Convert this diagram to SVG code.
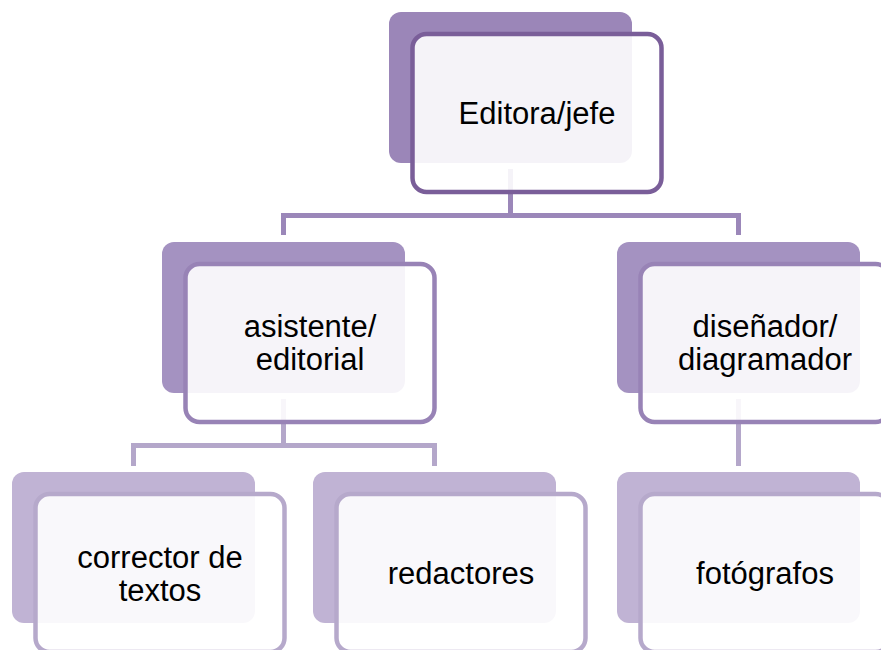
<svg xmlns="http://www.w3.org/2000/svg" width="881" height="650" viewBox="0 0 881 650">
<style>
.conn{fill:none;stroke-width:5;stroke-linejoin:miter;stroke-linecap:butt}
.c1{stroke:#9b87b9}
.c2{stroke:#b4a7ca}
.back{stroke:none}
.front{fill:#ffffff;fill-opacity:0.9;stroke-width:4.5}
.l1 .back{fill:#9b86b8}
.l1 .front{stroke:#7a5e99}
.l2 .back{fill:#a492c1}
.l2 .front{stroke:#9883b6}
.l3 .back{fill:#c0b3d4}
.l3 .front{stroke:#b6a9cb}
text{font-family:"Liberation Sans",Arial,sans-serif;font-size:31px;fill:#000;text-anchor:middle}
</style>
<rect width="881" height="650" fill="#ffffff"/>
<g id="connectors">
<path class="conn c1" d="M510.5,169 V215.5 M283.5,235 V215.5 H738.5 V235"/>
<path class="conn c2" d="M283.5,399 V445.5 M133.5,466 V445.5 H434.5 V466"/>
<path class="conn c2" d="M738.5,399 V466"/>
</g>
<g id="editora" class="l1">
<rect class="back" x="389" y="12" width="243" height="151" rx="12"/>
<rect class="front" x="412.5" y="34" width="249" height="158" rx="14"/>
<text x="537" y="124">Editora/jefe</text>
</g>
<g id="asistente" class="l2">
<rect class="back" x="162" y="242" width="243" height="151" rx="12"/>
<rect class="front" x="185.5" y="264" width="249" height="158" rx="14"/>
<text x="310" y="336.5">asistente/</text>
<text x="310" y="370">editorial</text>
</g>
<g id="disenador" class="l2">
<rect class="back" x="617" y="242" width="243" height="151" rx="12"/>
<rect class="front" x="640.5" y="264" width="249" height="158" rx="14"/>
<text x="765" y="336.5">diseñador/</text>
<text x="765" y="370">diagramador</text>
</g>
<g id="corrector" class="l3">
<rect class="back" x="12" y="472" width="243" height="151" rx="12"/>
<rect class="front" x="35.5" y="494" width="249" height="158" rx="14"/>
<text x="160" y="568">corrector de</text>
<text x="160" y="601">textos</text>
</g>
<g id="redactores" class="l3">
<rect class="back" x="313" y="472" width="243" height="151" rx="12"/>
<rect class="front" x="336.5" y="494" width="249" height="158" rx="14"/>
<text x="461" y="584">redactores</text>
</g>
<g id="fotografos" class="l3">
<rect class="back" x="617" y="472" width="243" height="151" rx="12"/>
<rect class="front" x="640.5" y="494" width="249" height="158" rx="14"/>
<text x="765" y="584">fotógrafos</text>
</g>
</svg>
